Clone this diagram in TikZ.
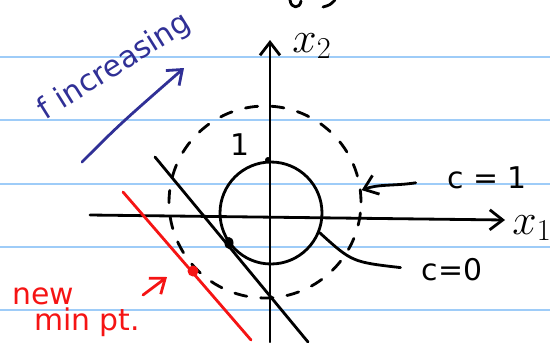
\documentclass[tikz,border=0pt]{standalone}
\usepackage{fontspec}
\setmainfont{DejaVu Sans}
\usetikzlibrary{arrows.meta}
\definecolor{ruleblue}{RGB}{158,204,248}
\definecolor{penblue}{RGB}{48,48,150}
\definecolor{penred}{RGB}{245,20,20}

\begin{document}
\begin{tikzpicture}[
  x=0.02cm, y=-0.02cm,
  ink/.style={line width=1.6pt, line cap=round, line join=round},
  redink/.style={ink, draw=penred},
  blueink/.style={ink, draw=penblue},
  hand/.style={inner sep=0pt, font=\fontsize{17}{17}\selectfont},
  axlbl/.style={inner sep=0pt, font=\fontsize{26}{26}\selectfont},
  level/.style={circle, draw, ink, inner sep=0pt},
  barb/.style={-{Straight Barb[length=2.6mm, width=4mm]}},
  rule/.style={ruleblue, line width=1.1pt},
]
\useasboundingbox (0,0) rectangle (550,342);
% ruled paper
\foreach \y in {57,120,184,247,310}{ \draw[rule] (0,\y) -- (550,\y); }
% cut-off writing at the top edge
\draw[ink] (290,0) .. controls (291,9) and (300,9) .. (301,1);
\draw[ink] (323,7) .. controls (330,5) .. (335,0);
% ---- axes ----
\coordinate (xoneL) at (90,215); \coordinate (xoneR) at (505,220);
\coordinate (xtwoB) at (270,342); \coordinate (xtwoT) at (270,40);
\draw[ink, barb] (xoneL) -- (xoneR);
\draw[ink, barb] (xtwoB) -- (xtwoT);
\node[axlbl] (xonelbl) at (532,228) {$x_1$};
\node[axlbl] (xtwolbl) at (312,46) {$x_2$};
% ---- level sets ----
\node[level, minimum size=2.04cm] (lvlzero) at (271,213) {};
\node[level, dash pattern=on 7pt off 8pt, minimum size=3.84cm] (lvlone) at (265,202) {};
\node[hand] (onelbl) at (240,145) {1};
\fill (268,160) circle (3);
\node[hand] (conelbl) at (487,178) {c = 1};
\node[hand] (czerolbl) at (452,270) {c=0};
\draw[ink, barb, shorten <=18pt] (conelbl.west) .. controls (395,186) and (378,184) .. (lvlone.7);
\draw[ink, shorten <=12pt] (czerolbl.west) .. controls (352,262) .. (lvlzero.-22);
% ---- constraint lines ----
\coordinate (tanA) at (155,157); \coordinate (tanB) at (308,342);
\draw[ink] (tanA) -- (tanB);
\fill (229,243) ellipse (4.5 and 6);
\coordinate (redA) at (123,192); \coordinate (redB) at (251,340);
\draw[redink] (redA) -- (redB);
\fill[penred] (193,271) circle (5.5);
% ---- notes ----
\node[hand, text=penblue, rotate=32] (fnote) at (115,67) {f increasing};
\coordinate (fstart) at (82,162); \coordinate (fend) at (184,68);
\draw[blueink, barb] (fstart) .. controls (120,124) .. (fend);
\node[hand, text=penred] (newlbl) at (43,296) {new};
\node[hand, text=penred] (minlbl) at (87,322) {min pt.};
\coordinate (rstart) at (143,295); \coordinate (rend) at (167,277);
\draw[redink, barb] (rstart) -- (rend);
\end{tikzpicture}
\end{document}
